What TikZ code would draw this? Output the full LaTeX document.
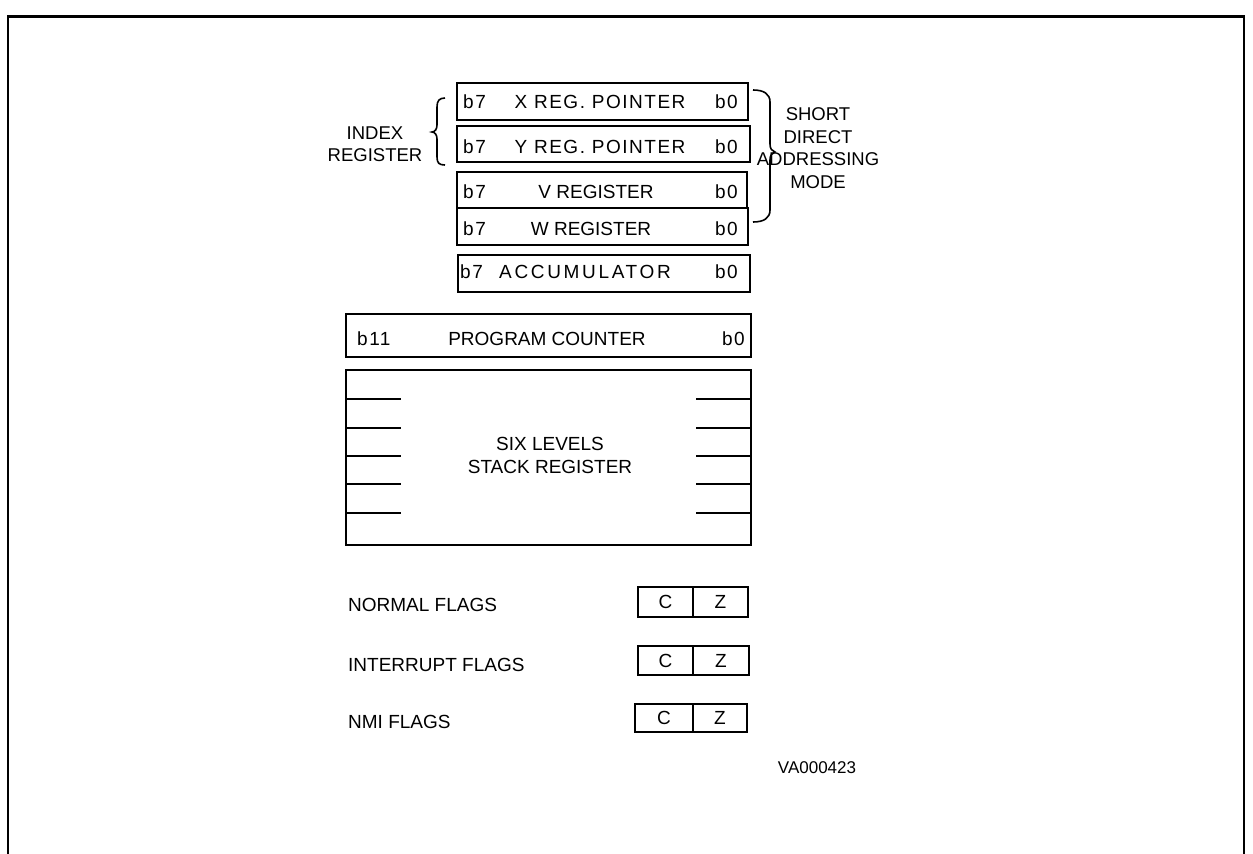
\documentclass[tikz,border=0pt]{standalone}
\usepackage{fontspec}
\setmainfont{Liberation Sans}
\newfontfamily\spacedA[LetterSpace=8]{Liberation Sans}
\newfontfamily\spacedB[LetterSpace=14]{Liberation Sans}
\begin{document}
\begin{tikzpicture}[x=1pt,y=-1pt,
  reg/.style={draw,line width=1.8pt,inner sep=0pt,rectangle},
  txt/.style={inner sep=0pt,font=\fontsize{19}{23}\selectfont,text height=13.7pt,text depth=0pt},
  sp/.style={txt,font=\fontsize{19}{23}\spacedA},
  spb/.style={txt,font=\fontsize{19}{23}\spacedB},
  side/.style={inner sep=0pt,align=center,font=\fontsize{18.5}{22.5}\selectfont},
  stackline/.style={line width=1.6pt}]
\useasboundingbox (0,0) rectangle (1253,854);
% frame
\draw[line width=2pt] (8,854) -- (8,16) -- (1244,16) -- (1244,854);
\draw[line width=3pt] (7,16) -- (1245,16);
% register boxes
\node[reg,minimum width=291pt,minimum height=37pt] (xr) at (602.5,101.5) {};
\node[reg,minimum width=293pt,minimum height=36pt] (yr) at (603.5,144) {};
\node[reg,minimum width=290pt,minimum height=36pt] (vr) at (602,190) {};
\node[reg,minimum width=291pt,minimum height=37pt] (wr) at (602.5,226.5) {};
\node[reg,minimum width=292pt,minimum height=37pt] (acc) at (604,273.5) {};
% register texts
\node[sp,anchor=west] (xb7) at (463,102) {b7};
\node[sp] (xl) at (600,102) {X REG. POINTER};
\node[sp,anchor=east] (xb0) at (738,102) {b0};
\node[sp,anchor=west] (yb7) at (463,147) {b7};
\node[sp] (yl) at (600,147) {Y REG. POINTER};
\node[sp,anchor=east] (yb0) at (738,147) {b0};
\node[sp,anchor=west] (vb7) at (463,192) {b7};
\node[txt] (vl) at (596,192) {V REGISTER};
\node[sp,anchor=east] (vb0) at (738,192) {b0};
\node[sp,anchor=west] (wb7) at (463,229) {b7};
\node[txt] (wl) at (591,229) {W REGISTER};
\node[sp,anchor=east] (wb0) at (738,229) {b0};
\node[sp,anchor=west] (ab7) at (460,272) {b7};
\node[spb] (al) at (585,272) {ACCUMULATOR};
\node[sp,anchor=east] (ab0) at (738,272) {b0};
% index brace
\draw[line width=1.6pt] (445,98) .. controls (439,98) and (437,101) .. (437,107) -- (437,125) .. controls (437,129) and (435,132) .. (432,132) .. controls (435,132) and (437,135) .. (437,139) -- (437,157) .. controls (437,163) and (439,165) .. (445,165);
\node[side] (idx) at (375,144) {INDEX\\REGISTER};
% short direct brace
\draw[line width=1.6pt] (753,90) .. controls (764,90) and (770,94) .. (770,102) -- (770,144) .. controls (770,149) and (772,151) .. (775,152) .. controls (772,153) and (770,155) .. (770,160) -- (770,210) .. controls (770,218) and (764,222) .. (753,222);
\node[side] (sdam) at (818,148) {SHORT\\DIRECT\\ADDRESSING\\MODE};
% program counter
\node[reg,minimum width=405pt,minimum height=43pt] (pc) at (548.5,335.5) {};
\node[sp,anchor=west] (pcb11) at (357,339) {b11};
\node[txt] (pcl) at (547,339) {PROGRAM COUNTER};
\node[sp,anchor=east] (pcb0) at (745,339) {b0};
% stack
\node[reg,minimum width=405pt,minimum height=175pt] (st) at (548.5,457.5) {};
\foreach \yy in {399,428,456,484,513} {
  \draw[stackline] (346,\yy) -- (401,\yy);
  \draw[stackline] (696,\yy) -- (751,\yy);
}
\node[txt,align=center,text height=,text depth=] (stl) at (550,455) {SIX LEVELS\\STACK REGISTER};
% flags
\node[txt,anchor=west] (nf) at (348,605) {NORMAL FLAGS};
\node[reg,txt,draw,minimum width=55pt,minimum height=30pt] (nc) at (665.5,602) {C};
\node[reg,txt,draw,minimum width=55pt,minimum height=30pt] (nz) at (720.5,602) {Z};
\node[txt,anchor=west] (inf) at (348,665) {INTERRUPT FLAGS};
\node[reg,txt,draw,minimum width=55pt,minimum height=29pt] (ic) at (665.5,660.5) {C};
\node[reg,txt,draw,minimum width=56pt,minimum height=29pt] (iz) at (721,660.5) {Z};
\node[txt,anchor=west] (mf) at (348,722) {NMI FLAGS};
\node[reg,txt,draw,minimum width=58pt,minimum height=28pt] (mc) at (664,718) {C};
\node[reg,txt,draw,minimum width=54pt,minimum height=28pt] (mz) at (720,718) {Z};
% code
\node[inner sep=0pt,font=\fontsize{17}{20}\selectfont] (va) at (817,768) {VA000423};
\end{tikzpicture}
\end{document}
